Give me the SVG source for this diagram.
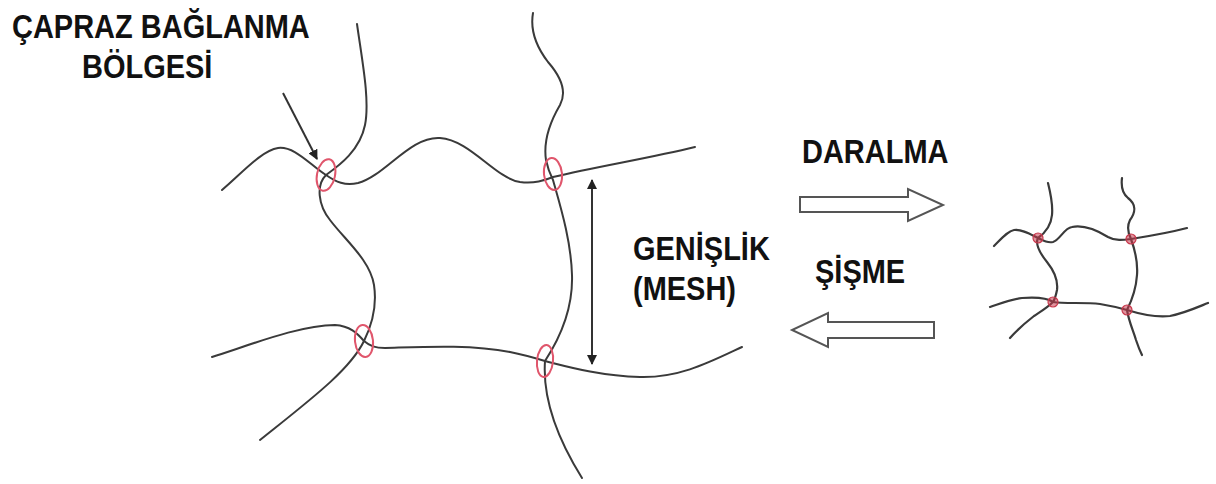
<svg xmlns="http://www.w3.org/2000/svg" width="1216" height="484" viewBox="0 0 1216 484">
  <style>
    .lbl { font-family: "Liberation Sans", Arial, sans-serif; font-weight: bold; font-size: 29px; fill: #111; }
    .chain { fill: none; stroke: #3a3a3a; stroke-width: 2; stroke-linecap: round; }
    .chain-s { fill: none; stroke: #3a3a3a; stroke-width: 2.2; stroke-linecap: round; }
    .xlink { fill: none; stroke: #e0566c; stroke-width: 2; }
    .xdot { fill: #c8384c; fill-opacity: 0.55; stroke: #c8384c; stroke-width: 1.2; }
    .ptr { stroke: #333; stroke-width: 2; fill: none; }
    .hollow { fill: #fff; stroke: #555; stroke-width: 2; stroke-linejoin: miter; }
  </style>
  <defs>
    <marker id="tri" viewBox="0 0 10 10" refX="9" refY="5" markerWidth="5" markerHeight="5" orient="auto-start-reverse" markerUnits="strokeWidth">
      <path d="M0,0 L10,5 L0,10 Z" fill="#222"/>
    </marker>
  </defs>
  <rect width="1216" height="484" fill="#fff"/>

  <!-- swollen network: polymer chains -->
  <g id="swollen-network">
    <path class="chain" d="M222,190 C240,175 262,150 278,148 C295,146 310,165 326,175 C336,182 345,186 358,183 C385,176 410,136 440,138 C470,140 495,178 520,182 C535,184 545,180 553,177 C600,166 650,158 695,147"/>
    <path class="chain" d="M357,24 C362,60 370,100 365,125 C360,150 340,165 326,175 C316,185 318,205 330,220 C345,240 370,260 374,285 C377,305 372,325 364,341 C350,370 310,400 260,440"/>
    <path class="chain" d="M212,357 C250,345 300,325 335,325 C350,326 357,333 364,341 C370,346 375,348 385,348 C420,347 470,344 510,352 C525,355 535,358 545,361 C565,366 600,376 640,377 C680,378 710,362 742,347"/>
    <path class="chain" d="M533,13 C530,30 535,45 548,62 C562,78 567,92 560,105 C550,122 543,140 546,160 C548,170 551,176 553,180 C560,205 571,240 572,275 C573,305 562,335 545,361 C543,390 552,430 582,478"/>
  </g>

  <!-- cross-link regions -->
  <g id="crosslinks">
    <ellipse class="xlink" cx="326" cy="175" rx="9" ry="16" transform="rotate(12 326 175)"/>
    <ellipse class="xlink" cx="553" cy="174" rx="9" ry="16" transform="rotate(-6 553 174)"/>
    <ellipse class="xlink" cx="364" cy="341" rx="9" ry="16" transform="rotate(-6 364 341)"/>
    <ellipse class="xlink" cx="545" cy="361" rx="8" ry="16" transform="rotate(6 545 361)"/>
  </g>

  <!-- shrunk network -->
  <g id="shrunk-network">
    <path class="chain-s" d="M994,246 C1002,238 1008,231 1014,230 C1022,229 1030,234 1038,238 C1044,241 1048,243 1053,242 C1060,240 1064,228 1072,227 C1082,225 1095,229 1108,237 C1115,241 1123,240 1131,239 C1150,236 1168,233 1187,228"/>
    <path class="chain-s" d="M1048,183 C1051,195 1053,205 1052,215 C1051,226 1045,233 1038,238 C1035,244 1039,252 1047,262 C1055,272 1058,282 1057,290 C1056,295 1055,299 1053,302 C1047,308 1040,312 1034,316 C1025,323 1017,330 1010,338"/>
    <path class="chain-s" d="M990,307 C1002,303 1012,299 1022,298 C1035,297 1046,297 1053,302 C1065,304 1085,302 1100,304 C1112,306 1120,308 1127,310 C1140,314 1155,318 1170,316 C1185,313 1198,307 1208,303"/>
    <path class="chain-s" d="M1122,178 C1121,186 1122,193 1128,198 C1136,204 1136,212 1130,220 C1127,226 1128,233 1131,239 C1135,250 1138,262 1137,275 C1136,290 1132,300 1127,310 C1129,322 1133,330 1136,340 C1138,346 1140,351 1142,355"/>
    <circle class="xdot" cx="1038" cy="238" r="5"/>
    <circle class="xdot" cx="1131" cy="239" r="5"/>
    <circle class="xdot" cx="1053" cy="302" r="5"/>
    <circle class="xdot" cx="1127" cy="310" r="5"/>
  </g>

  <!-- pointers and mesh-size arrow -->
  <g id="connectors">
    <line class="ptr" x1="283" y1="93" x2="317" y2="159" marker-end="url(#tri)"/>
    <line class="ptr" x1="592" y1="180" x2="592" y2="364" marker-start="url(#tri)" marker-end="url(#tri)"/>
  </g>

  <!-- shrink / swell block arrows -->
  <g id="arrow-shrink">
    <path class="hollow" d="M800,197 L908,197 L908,189 L943,205 L908,221 L908,212 L800,212 Z"/>
  </g>
  <g id="arrow-swell">
    <path class="hollow" d="M934,322 L828,322 L828,313 L792,330 L828,347 L828,338 L934,338 Z"/>
  </g>

  <!-- labels -->
  <g id="label-crosslink">
    <text class="lbl" transform="translate(12,38) scale(1,1.12)">ÇAPRAZ BAĞLANMA</text>
    <text class="lbl" transform="translate(82,78) scale(1,1.12)">BÖLGESİ</text>
  </g>
  <g id="label-mesh">
    <text class="lbl" transform="translate(633,260) scale(1,1.12)">GENİŞLİK</text>
    <text class="lbl" transform="translate(633,300) scale(1,1.12)">(MESH)</text>
  </g>
  <g id="label-shrink">
    <text class="lbl" transform="translate(802,163) scale(1,1.12)">DARALMA</text>
  </g>
  <g id="label-swell">
    <text class="lbl" transform="translate(815,283) scale(1,1.12)">ŞİŞME</text>
  </g>
</svg>
